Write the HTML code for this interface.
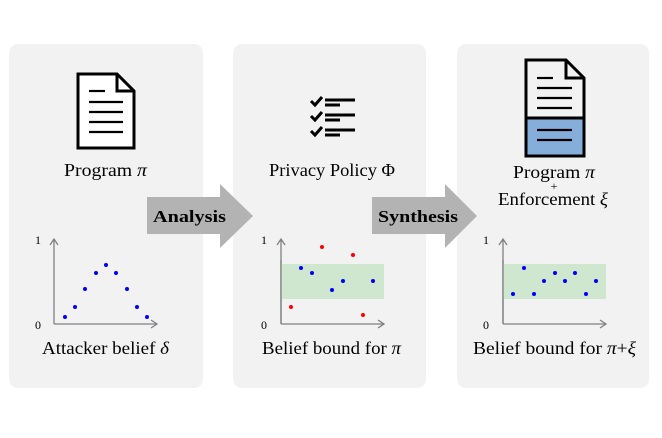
<!DOCTYPE html>
<html><head><meta charset="utf-8"><style>
html,body{margin:0;padding:0;background:#fff;}
body{width:662px;height:433px;overflow:hidden;}
</style></head><body>
<svg width="662" height="433" viewBox="0 0 662 433" xmlns="http://www.w3.org/2000/svg" font-family="'Liberation Serif', serif">
<rect x="9" y="44" width="194" height="344" rx="9" fill="#f2f2f2"/>
<rect x="233" y="44" width="193" height="344" rx="9" fill="#f2f2f2"/>
<rect x="457" y="44" width="192" height="344" rx="9" fill="#f2f2f2"/>

<!-- doc 1 -->
<path d="M78 74 H117 L134 91 V148 H78 Z" fill="#fff" stroke="#000" stroke-width="3" stroke-linejoin="miter"/>
<path d="M117 74 V91 H134" fill="none" stroke="#000" stroke-width="3"/>
<g stroke="#000" stroke-width="2.2">
<line x1="89" y1="91" x2="105" y2="91"/>
<line x1="89" y1="102" x2="123" y2="102"/>
<line x1="89" y1="112" x2="123" y2="112"/>
<line x1="89" y1="122" x2="123" y2="122"/>
<line x1="89" y1="132" x2="123" y2="132"/>
</g>
<text x="64" y="176" font-size="18" textLength="83" lengthAdjust="spacingAndGlyphs">Program <tspan font-style="italic">π</tspan></text>

<!-- axes -->
<g stroke="#808080" stroke-width="1.3" fill="none">
<line x1="54" y1="324" x2="54" y2="240"/><path d="M50 245 L54 239 L58 245"/>
<line x1="54" y1="324" x2="157" y2="324"/><path d="M151 320 L157 324 L151 328"/>
<line x1="281" y1="324" x2="281" y2="240"/><path d="M277 245 L281 239 L285 245"/>
<line x1="281" y1="324" x2="384" y2="324"/><path d="M378 320 L384 324 L378 328"/>
<line x1="503" y1="324" x2="503" y2="240"/><path d="M499 245 L503 239 L507 245"/>
<line x1="503" y1="324" x2="606" y2="324"/><path d="M600 320 L606 324 L600 328"/>
</g>
<g font-size="12">
<text x="35" y="244">1</text><text x="35" y="329">0</text>
<text x="261" y="244">1</text><text x="261" y="329">0</text>
<text x="483" y="244">1</text><text x="483" y="329">0</text>
</g>
<g fill="#0000ff">
<circle cx="65" cy="317" r="2"/><circle cx="75" cy="307" r="2"/><circle cx="85" cy="289" r="2"/><circle cx="96" cy="273" r="2"/><circle cx="106" cy="265" r="2"/><circle cx="116" cy="273" r="2"/><circle cx="127" cy="289" r="2"/><circle cx="137" cy="307" r="2"/><circle cx="147" cy="317" r="2"/>
</g>
<text x="42" y="354" font-size="18" textLength="127" lengthAdjust="spacingAndGlyphs">Attacker belief <tspan font-style="italic">δ</tspan></text>

<!-- checklist -->
<g stroke="#000" stroke-width="3" fill="none">
<path d="M311 101 L315 105 L322 97"/><path d="M311 116 L315 120 L322 112"/><path d="M311 131 L315 135 L322 127"/>
<line x1="325" y1="100" x2="355" y2="100"/><line x1="325" y1="105" x2="340" y2="105"/>
<line x1="325" y1="115" x2="355" y2="115"/><line x1="325" y1="120" x2="340" y2="120"/>
<line x1="325" y1="130" x2="355" y2="130"/><line x1="325" y1="135" x2="340" y2="135"/>
</g>
<text x="269" y="176" font-size="18" textLength="126" lengthAdjust="spacingAndGlyphs">Privacy Policy Φ</text>

<!-- chart 2 -->
<rect x="281" y="264" width="103" height="35" fill="#cfe6cf"/>
<g stroke="#808080" stroke-width="1.3"><line x1="281" y1="324" x2="281" y2="260"/></g>
<g fill="#0000ff"><circle cx="301" cy="268" r="2"/><circle cx="312" cy="273" r="2"/><circle cx="332" cy="290" r="2"/><circle cx="343" cy="281" r="2"/><circle cx="373" cy="281" r="2"/></g>
<g fill="#ff0000"><circle cx="322" cy="247" r="2"/><circle cx="353" cy="255" r="2"/><circle cx="291" cy="307" r="2"/><circle cx="363" cy="315" r="2"/></g>
<text x="262" y="354" font-size="18" textLength="139" lengthAdjust="spacingAndGlyphs">Belief bound for <tspan font-style="italic">π</tspan></text>

<!-- doc 3 -->
<rect x="526" y="118" width="58" height="38" fill="#86aedb"/>
<path d="M526 60 H566 L584 78 V156 H526 Z" fill="none" stroke="#000" stroke-width="3"/>
<path d="M566 60 V78 H584" fill="none" stroke="#000" stroke-width="3"/>
<line x1="526" y1="118" x2="584" y2="118" stroke="#000" stroke-width="3"/>
<g stroke="#000" stroke-width="2.2">
<line x1="537" y1="78" x2="553" y2="78"/>
<line x1="537" y1="88" x2="572" y2="88"/>
<line x1="537" y1="98" x2="572" y2="98"/>
<line x1="537" y1="108" x2="572" y2="108"/>
<line x1="537" y1="130" x2="572" y2="130"/>
<line x1="537" y1="140" x2="572" y2="140"/>
</g>
<text x="513" y="178" font-size="18" textLength="82" lengthAdjust="spacingAndGlyphs">Program <tspan font-style="italic">π</tspan></text>
<text x="554" y="190" font-size="12" text-anchor="middle">+</text>
<text x="498" y="205" font-size="18" textLength="110" lengthAdjust="spacingAndGlyphs">Enforcement <tspan font-style="italic">ξ</tspan></text>

<!-- chart 3 -->
<rect x="503" y="264" width="103" height="35" fill="#cfe6cf"/>
<g stroke="#808080" stroke-width="1.3"><line x1="503" y1="324" x2="503" y2="260"/></g>
<g fill="#0000ff"><circle cx="513" cy="294" r="2"/><circle cx="524" cy="268" r="2"/><circle cx="534" cy="294" r="2"/><circle cx="544" cy="281" r="2"/><circle cx="555" cy="273" r="2"/><circle cx="565" cy="281" r="2"/><circle cx="575" cy="273" r="2"/><circle cx="586" cy="294" r="2"/><circle cx="596" cy="281" r="2"/></g>
<text x="473" y="354" font-size="18" textLength="163" lengthAdjust="spacingAndGlyphs">Belief bound for <tspan font-style="italic">π</tspan>+<tspan font-style="italic">ξ</tspan></text>

<!-- arrows -->
<path d="M147 197 H220 V184 L253 216 L220 248 V234 H147 Z" fill="#b3b3b3"/>
<text x="153" y="222" font-size="17" font-weight="bold" textLength="73" lengthAdjust="spacingAndGlyphs">Analysis</text>
<path d="M372 197 H445 V184 L477 216 L445 248 V234 H372 Z" fill="#b3b3b3"/>
<text x="378" y="222" font-size="17" font-weight="bold" textLength="80" lengthAdjust="spacingAndGlyphs">Synthesis</text>
</svg>
</body></html>
